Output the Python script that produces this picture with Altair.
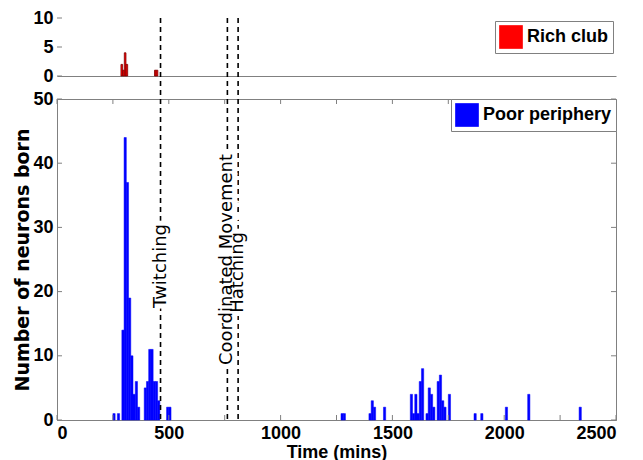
import altair as alt
import pandas as pd

# ---------------- data ----------------
poor_start = [250, 270, 290, 300, 310, 320, 330, 340, 350, 360,
              390, 400, 410, 420, 430, 440, 450, 490, 500,
              1270, 1280, 1395, 1405, 1415, 1460,
              1580, 1590, 1600, 1610, 1620, 1630, 1650, 1660, 1670, 1680,
              1700, 1710, 1720, 1730, 1750,
              1865, 1895, 2005, 2105, 2335]
poor_count = [1, 1, 14, 44, 37, 19, 10, 4, 6, 2,
              5, 6, 11, 11, 6, 6, 3, 2, 2,
              1, 1, 1, 3, 2, 2,
              4, 1, 4, 1, 6, 8, 1, 5, 4, 2,
              6, 7, 3, 2, 4,
              1, 1, 2, 4, 2]
rich_start = [286, 293.5, 301, 308.5, 436, 443.5]
rich_count = [2, 1, 4, 2, 1, 1]

event_names = ["Twitching", "Coordinated Movement", "Hatching"]
event_times = [463, 762, 810]
event_label_y = [24, 25, 23]

x_ticks = [0, 250, 500, 750, 1000, 1250, 1500, 1750, 2000, 2250, 2500]
top_y_ticks = [0, 5, 10]
bottom_y_ticks = [0, 10, 20, 30, 40, 50]

POOR_BIN = 10
RICH_BIN = 7.5

poor_df = pd.DataFrame({"start": poor_start, "count": poor_count})
poor_df["end"] = poor_df["start"] + POOR_BIN
poor_df["base"] = 0
poor_df["group"] = "Poor periphery"
rich_df = pd.DataFrame({"start": rich_start, "count": rich_count})
rich_df["end"] = rich_df["start"] + RICH_BIN
rich_df["base"] = 0
rich_df["group"] = "Rich club"
ev_df = pd.DataFrame({"event": event_names, "time": event_times, "label_y": event_label_y})
xt_df = pd.DataFrame({"start": x_ticks})
ty_df = pd.DataFrame({"count": top_y_ticks})
by_df = pd.DataFrame({"count": bottom_y_ticks})

# ---------------- layout / style ----------------
W, H_TOP, H_BOT, GAP = 559, 58, 321, 23
FONT = "Liberation Sans"
WIDE = "DejaVu Sans"
GREY = "#808080"
TK = 5

xscale = alt.Scale(domain=[0, 2500], nice=False, zero=False)
top_yscale = alt.Scale(domain=[0, 10], nice=False)
bot_yscale = alt.Scale(domain=[0, 50], nice=False)

top_x_axis = alt.Axis(labels=False, ticks=False, title=None, grid=False,
                      domainColor=GREY, domainWidth=1)
top_y_axis = alt.Axis(values=top_y_ticks, title=None, domain=False, ticks=False,
                      grid=False, labelFont=FONT, labelFontWeight="bold",
                      labelFontSize=18, labelColor="black", labelPadding=4)
bot_x_axis = alt.Axis(values=x_ticks, format="d", title="Time (mins)", ticks=False,
                      grid=False, domainColor=GREY, labelFont=FONT,
                      labelFontWeight="bold", labelFontSize=18, labelColor="black",
                      labelPadding=4, titleFont=FONT, titleFontWeight="bold",
                      titleFontSize=18, titleColor="black", titlePadding=1)
bot_y_axis = alt.Axis(values=bottom_y_ticks, title="Number of neurons born",
                      ticks=False, grid=False, domainColor=GREY,
                      labelFont=FONT, labelFontWeight="bold", labelFontSize=18,
                      labelColor="black", labelPadding=4,
                      titleFont=WIDE, titleFontWeight="bold", titleFontSize=19,
                      titleColor="black", titlePadding=0)


def legend(offset):
    return alt.Legend(orient="top-right", offset=offset, title=None,
                      strokeColor=GREY, fillColor="white", padding=4,
                      symbolType="square", symbolSize=560,
                      symbolStrokeWidth=0, symbolOpacity=1,
                      labelFont=FONT, labelFontWeight="bold",
                      labelFontSize=18, labelColor="black")


# ---------- top panel (rich club) ----------
rich_bars = alt.Chart(rich_df).mark_bar(stroke="#7a0000", strokeWidth=0.8).encode(
    x=alt.X("start:Q", scale=xscale, axis=top_x_axis),
    x2="end:Q",
    y=alt.Y("count:Q", scale=top_yscale, axis=top_y_axis),
    y2="base:Q",
    color=alt.Color("group:N", scale=alt.Scale(domain=["Rich club"], range=["#ff0000"]),
                    legend=legend(3)),
)
top_ticks = alt.Chart(ty_df).mark_rule(color=GREY).encode(
    y=alt.Y("count:Q", scale=top_yscale, axis=top_y_axis),
    x=alt.value(0), x2=alt.value(TK))
top_events = alt.Chart(ev_df).mark_rule(color="black", strokeWidth=1.6, strokeDash=[5, 4]).encode(
    x=alt.X("time:Q", scale=xscale, axis=top_x_axis),
    y=alt.value(0), y2=alt.value(H_TOP + GAP))

top = alt.layer(rich_bars, top_ticks, top_events).properties(
    width=W, height=H_TOP, view=alt.ViewBackground(stroke="transparent"))

# ---------- bottom panel (poor periphery) ----------
poor_bars = alt.Chart(poor_df).mark_bar(stroke="#0000ff", strokeWidth=0.5).encode(
    x=alt.X("start:Q", scale=xscale, axis=bot_x_axis),
    x2="end:Q",
    y=alt.Y("count:Q", scale=bot_yscale, axis=bot_y_axis),
    y2="base:Q",
    color=alt.Color("group:N", scale=alt.Scale(domain=["Poor periphery"], range=["#0000ff"]),
                    legend=legend(0)),
)
b_ticks_bottom = alt.Chart(xt_df).mark_rule(color=GREY).encode(
    x=alt.X("start:Q", scale=xscale, axis=bot_x_axis),
    y=alt.value(H_BOT), y2=alt.value(H_BOT - TK))
b_ticks_top = alt.Chart(xt_df).mark_rule(color=GREY).encode(
    x=alt.X("start:Q", scale=xscale, axis=bot_x_axis),
    y=alt.value(0), y2=alt.value(TK))
b_ticks_left = alt.Chart(by_df).mark_rule(color=GREY).encode(
    y=alt.Y("count:Q", scale=bot_yscale, axis=bot_y_axis),
    x=alt.value(0), x2=alt.value(TK))
b_ticks_right = alt.Chart(by_df).mark_rule(color=GREY).encode(
    y=alt.Y("count:Q", scale=bot_yscale, axis=bot_y_axis),
    x=alt.value(W), x2=alt.value(W - TK))
b_events = alt.Chart(ev_df).mark_rule(color="black", strokeWidth=1.6, strokeDash=[5, 4]).encode(
    x=alt.X("time:Q", scale=xscale, axis=bot_x_axis),
    y=alt.value(0), y2=alt.value(H_BOT))
halo = alt.Chart(ev_df).mark_text(angle=270, font=WIDE, fontSize=18, align="center",
                                  baseline="middle", fill="white", stroke="white",
                                  strokeWidth=10).encode(
    x=alt.X("time:Q", scale=xscale, axis=bot_x_axis),
    y=alt.Y("label_y:Q", scale=bot_yscale, axis=bot_y_axis), text="event:N")
labels = alt.Chart(ev_df).mark_text(angle=270, font=WIDE, fontSize=18, align="center",
                                    baseline="middle", color="black").encode(
    x=alt.X("time:Q", scale=xscale, axis=bot_x_axis),
    y=alt.Y("label_y:Q", scale=bot_yscale, axis=bot_y_axis), text="event:N")

bottom = alt.layer(poor_bars, b_ticks_bottom, b_ticks_top, b_ticks_left, b_ticks_right,
                   b_events, halo, labels).properties(
    width=W, height=H_BOT, view=alt.ViewBackground(stroke=GREY, strokeWidth=1))

chart = alt.vconcat(top, bottom, spacing=GAP, bounds="flush").resolve_scale(
    color="independent").resolve_legend(color="independent").properties(
    padding={"left": 5, "top": 0, "right": 5, "bottom": 0},
    background="white")

chart.save("out.html", embed_options={"renderer": "svg", "actions": False})
